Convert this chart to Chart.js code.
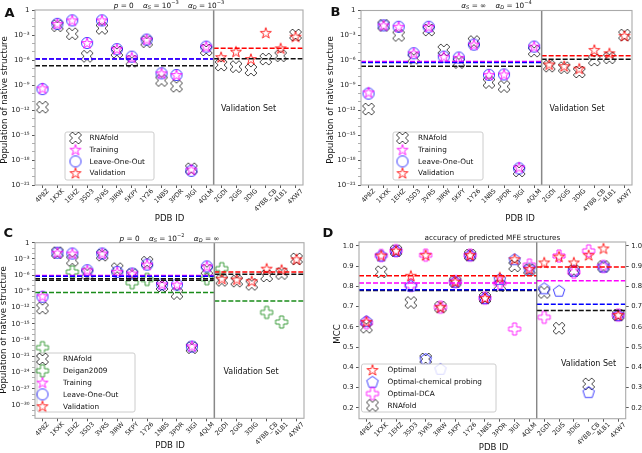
<!DOCTYPE html>
<html><head><meta charset="utf-8">
<script src="https://cdn.jsdelivr.net/npm/chart.js@4/dist/chart.umd.min.js"></script>
<style>
html,body{margin:0;padding:0;background:#fff;}
#wrap{position:relative;width:642px;height:453px;overflow:hidden;background:#fff;}
canvas{position:absolute;}
</style></head><body>
<div id="wrap">
<canvas id="cA" width="321" height="226" style="left:0;top:0"></canvas>
<canvas id="cB" width="321" height="226" style="left:321px;top:0"></canvas>
<canvas id="cC" width="321" height="227" style="left:0;top:226px"></canvas>
<canvas id="cD" width="321" height="227" style="left:321px;top:226px"></canvas>
</div>
<script>
// ---------------- categories ----------------
const trainingSet = ['4P8Z','1KXK','1EHZ','3SD3','3VRS','3IRW','5KPY','1Y26','1NBS','3PDR','3IGI','4QLM'];
const validationSet = ['2GDI','2GIS','3DIG','4YBB_CB','4LB1','4XW7'];
const pdbIds = trainingSet.concat(validationSet);

// ---------------- panel A (population of native structure) ----------------
const A_rnafold = [2.2e-12,1.3e-2,1.4e-3,2.8e-6,6.3e-3,8.9e-6,7.1e-7,1.6e-4,3.5e-9,7.1e-10,8.9e-20,1.6e-5, 2.5e-7,1.6e-7,6.3e-8,1.3e-6,3.2e-6,1.0e-3];
const A_training = [4.0e-10,2.2e-2,5.6e-2,1.1e-4,5.6e-2,2.0e-5,2.0e-6,2.8e-4,2.5e-8,1.6e-8,7.1e-20,4.0e-5];
const A_leaveOneOut = [3.2e-10,2.2e-2,5.6e-2,1.1e-4,5.6e-2,2.0e-5,2.5e-6,2.8e-4,2.5e-8,1.6e-8,5.0e-20,4.0e-5];
const A_validation = [2.2e-6,1.0e-5,1.3e-6,1.8e-3,2.5e-5,6.3e-4];
const A_trainMeans = [1.4e-6, 1.3e-6, 2.0e-7];      // Training, Leave-One-Out, RNAfold
const A_validMeans = [2.5e-5, 1.4e-6];              // Validation, RNAfold

// ---------------- panel B ----------------
const B_rnafold = [1.4e-12,1.6e-2,1.0e-3,1.8e-6,4.5e-3,1.8e-5,5.6e-7,1.8e-4,2.2e-9,7.1e-10,5.0e-20,1.3e-5, 2.0e-7,1.3e-7,4.0e-8,1.1e-6,2.0e-6,1.1e-3];
const B_training = [1.4e-10,1.6e-2,1.1e-2,7.1e-6,1.1e-2,2.8e-6,2.0e-6,7.9e-5,1.8e-8,2.0e-8,1.3e-19,4.5e-5];
const B_leaveOneOut = [1.0e-10,1.6e-2,1.1e-2,7.1e-6,1.1e-2,2.8e-6,2.2e-6,7.9e-5,1.8e-8,2.0e-8,1.0e-19,4.5e-5];
const B_validation = [3.2e-7,2.0e-7,1.0e-7,1.8e-5,7.1e-6,8.9e-4];
const B_trainMeans = [7.1e-7, 5.6e-7, 2.0e-7];
const B_validMeans = [3.5e-6, 1.4e-6];

// ---------------- panel C ----------------
const C_rnafold = [7.9e-13,1.4e-2,5.6e-4,2.0e-6,5.0e-3,1.6e-5,1.3e-6,2.5e-4,1.0e-8,4.0e-10,4.0e-20,7.9e-6, 1.1e-7,7.9e-8,2.0e-8,7.1e-7,2.0e-6,1.0e-3];
const C_deigan2009 = [4.0e-20,null,4.0e-6,null,null,null,4.0e-8,1.6e-7,null,null,null,2.2e-7, 1.6e-5,null,null,1.3e-13,2.2e-15,null];
const C_training = [1.3e-10,1.4e-2,1.0e-2,7.9e-6,1.0e-2,4.0e-6,2.0e-6,8.9e-5,2.0e-8,1.8e-8,7.1e-20,4.0e-5];
const C_leaveOneOut = [1.0e-10,1.4e-2,1.0e-2,7.9e-6,1.0e-2,4.0e-6,2.0e-6,8.9e-5,2.0e-8,1.8e-8,6.3e-20,4.0e-5];
const C_validation = [2.2e-7,1.6e-7,7.9e-8,1.6e-5,1.0e-5,8.5e-4];
const C_trainMeans = [8.9e-7, 6.3e-7, 2.2e-7, 1.1e-7, 6.3e-10];  // Training, LOO, RNAfold, RNAfold(2), Deigan2009
const C_validMeans = [4.0e-6, 1.4e-6, 1.6e-11];                // Validation, RNAfold, Deigan2009

// ---------------- panel D (MCC) ----------------
const D_optimal = [0.625,0.952,0.976,0.852,0.954,0.697,0.823,0.954,0.742,0.844,0.934,0.885, 0.918,0.947,0.918,0.954,0.987,0.658];
const D_chemProbing = [0.628,0.952,0.976,0.803,0.441,0.392,0.823,0.954,0.742,0.836,0.934,0.888, 0.790,0.778,0.877,0.277,0.898,0.658];
const D_dca = [0.620,0.952,0.976,0.805,0.954,0.697,0.823,0.954,0.742,0.815,0.589,0.905, 0.647,0.950,0.870,0.975,0.898,0.658];
const D_rnafold = [0.598,0.872,0.976,0.720,0.441,0.697,0.823,0.954,0.742,0.803,0.901,0.882, 0.770,0.593,0.877,0.318,0.898,0.658];
const D_trainMeans = [0.852, 0.783, 0.816, 0.779];   // Optimal, chem probing, DCA, RNAfold
const D_validMeans = [0.896, 0.712, 0.828, 0.680];

// ---------------- tick labels ----------------
const logTicks21 = [1,1e-1,1e-2,1e-3,1e-4,1e-5,1e-6,1e-7,1e-8,1e-9,1e-10,1e-11,1e-12,1e-13,1e-14,1e-15,1e-16,1e-17,1e-18,1e-19,1e-20,1e-21];
const logLabels21 = ['1','','','10⁻³','','','10⁻⁶','','','10⁻⁹','','','10⁻¹²','','','10⁻¹⁵','','','10⁻¹⁸','','','10⁻²¹'];
const logTicks32 = [1,1e-1,1e-2,1e-3,1e-4,1e-5,1e-6,1e-7,1e-8,1e-9,1e-10,1e-11,1e-12,1e-13,1e-14,1e-15,1e-16,1e-17,1e-18,1e-19,1e-20,1e-21,1e-22,1e-23,1e-24,1e-25,1e-26,1e-27,1e-28,1e-29,1e-30,1e-31,1e-32];
const logLabels32 = ['1','','','10⁻³','','','10⁻⁶','','','10⁻⁹','','','10⁻¹²','','','10⁻¹⁵','','','10⁻¹⁸','','','10⁻²¹','','','10⁻²⁴','','','10⁻²⁷','','','10⁻³⁰','',''];
const mccTicks = [0.2,0.3,0.4,0.5,0.6,0.7,0.8,0.9,1.0];
const mccLabels = ['0.2','0.3','0.4','0.5','0.6','0.7','0.8','0.9','1.0'];

// ---------------- drawing helpers ----------------
const FONT = '"DejaVu Sans", sans-serif';
Chart.defaults.font.family = FONT;

function marker(shape, size, color, lw) {
  const pad = 2;
  const S = Math.ceil(size) + 2 * pad;
  const c = document.createElement('canvas');
  c.width = S; c.height = S;
  const g = c.getContext('2d');
  g.translate(S / 2, S / 2);
  g.strokeStyle = color; g.lineWidth = lw; g.lineJoin = 'miter';
  const r = size / 2;
  g.beginPath();
  let pts = null;
  if (shape === 'circle') {
    g.arc(0, 0, r - lw / 2, 0, Math.PI * 2);
  } else if (shape === 'star') {
    pts = [];
    for (let k = 0; k < 10; k++) {
      const a = -Math.PI / 2 + k * Math.PI / 5;
      const rr = (k % 2) ? r * 0.381966 : r;
      pts.push([rr * Math.cos(a), rr * Math.sin(a) + r * 0.08]);
    }
  } else if (shape === 'pentagon') {
    pts = [];
    for (let k = 0; k < 5; k++) {
      const a = -Math.PI / 2 + k * 2 * Math.PI / 5;
      pts.push([r * Math.cos(a), r * Math.sin(a) + r * 0.08]);
    }
  } else if (shape === 'plus') {
    pts = [[-1/3,-1],[1/3,-1],[1/3,-1/3],[1,-1/3],[1,1/3],[1/3,1/3],[1/3,1],[-1/3,1],[-1/3,1/3],[-1,1/3],[-1,-1/3],[-1/3,-1/3]].map(p => [p[0]*r, p[1]*r]);
  } else if (shape === 'x') {
    pts = [[-1,-2],[0,-1],[1,-2],[2,-1],[1,0],[2,1],[1,2],[0,1],[-1,2],[-2,1],[-1,0],[-2,-1]].map(p => [p[0]*r/2, p[1]*r/2]);
  }
  if (pts) { pts.forEach((p, i) => i ? g.lineTo(p[0], p[1]) : g.moveTo(p[0], p[1])); g.closePath(); }
  g.stroke();
  return c;
}

const M = {
  xBlack: marker('x', 12, '#222', 0.85),
  starMag: marker('star', 11.5, '#ff00ff', 0.85),
  circBlue: marker('circle', 12, '#2020ff', 0.85),
  starRed: marker('star', 11.5, '#ff0000', 0.85),
  plusGreen: marker('plus', 12, '#1a8c1a', 0.85),
  pentBlue: marker('pentagon', 12, '#2020ff', 0.85),
  plusMag: marker('plus', 12, '#ff00ff', 0.85)
};

function pts(values, offset) {
  const out = [];
  values.forEach((v, i) => { if (v !== null && v !== undefined) out.push({x: i + offset, y: v}); });
  return out;
}
function scat(label, values, offset, img, order) {
  return {label, data: pts(values, offset), pointStyle: img, pointRadius: 6, showLine: false, order};
}
function hline(value, x0, x1, color, order) {
  return {label: '', data: [{x: x0, y: value}, {x: x1, y: value}], showLine: true, borderColor: color,
          borderWidth: 1.5, borderDash: [5, 2], pointRadius: 0, order, fill: false};
}
function vline(x, y0, y1, color, w, order) {
  return {label: '', data: [{x, y: y0}, {x, y: y1}], showLine: true, borderColor: color, borderWidth: w, pointRadius: 0, order};
}

function richText(ctx, segs, cx, cy, fs) {
  let total = 0;
  const parts = segs.map(s => {
    const size = (s.sub || s.sup) ? fs * 0.7 : fs;
    const font = (s.it ? 'italic ' : '') + size + 'px ' + FONT;
    ctx.font = font;
    const w = ctx.measureText(s.t).width;
    total += w;
    return {t: s.t, font, w, dy: s.sub ? fs * 0.25 : (s.sup ? -fs * 0.42 : 0)};
  });
  let x = cx - total / 2;
  ctx.textAlign = 'left'; ctx.textBaseline = 'alphabetic';
  parts.forEach(p => { ctx.font = p.font; ctx.fillText(p.t, x, cy + p.dy); x += p.w; });
}

const decoPlugin = {
  id: 'deco',
  afterDraw(chart) {
    const d = chart.options.plugins.deco;
    const ctx = chart.ctx;
    const ca = chart.chartArea;
    const xs = chart.scales.x;
    ctx.save();
    // frame
    ctx.strokeStyle = d.frameColor; ctx.lineWidth = 1.1;
    ctx.strokeRect(ca.left, ca.top, ca.right - ca.left, ca.bottom - ca.top);
    // x tick labels rotated 45, centred on tick
    const fs = 6.4;
    ctx.font = fs + 'px ' + FONT; ctx.fillStyle = '#222';
    pdbIds.forEach((name, i) => {
      const w = ctx.measureText(name).width;
      const h = fs * 1.16;
      const H = (w + h) * Math.SQRT1_2;
      const cx = xs.getPixelForValue(i);
      const cy = ca.bottom + d.xLabelGap + H / 2;
      ctx.save(); ctx.translate(cx, cy); ctx.rotate(-Math.PI / 4);
      ctx.textAlign = 'center'; ctx.textBaseline = 'middle';
      ctx.fillText(name, 0, 0); ctx.restore();
    });
    // axis titles
    ctx.fillStyle = '#111';
    ctx.font = '8.6px ' + FONT; ctx.textAlign = 'center'; ctx.textBaseline = 'middle';
    ctx.fillText('PDB ID', d.xTitle[0], d.xTitle[1]);
    ctx.save(); ctx.translate(d.yTitle[0], d.yTitle[1]); ctx.rotate(-Math.PI / 2);
    ctx.fillText(d.yTitleText, 0, 0); ctx.restore();
    // Validation Set
    ctx.font = '8px ' + FONT;
    ctx.fillText('Validation Set', d.valText[0], d.valText[1]);
    // panel title
    ctx.fillStyle = '#111';
    richText(ctx, d.title, (ca.left + ca.right) / 2, d.titleY, 7.3);
    // panel letter
    ctx.font = 'bold 13px ' + FONT; ctx.textAlign = 'left'; ctx.textBaseline = 'alphabetic';
    ctx.fillText(d.letter, d.letterPos[0], d.letterPos[1]);
    // legend
    const L = d.legend;
    ctx.fillStyle = 'rgba(255,255,255,0.8)';
    ctx.strokeStyle = '#cccccc'; ctx.lineWidth = 1;
    const bx = L.box[0], by = L.box[1], bw = L.box[2] - L.box[0], bh = L.box[3] - L.box[1], rr = 2;
    ctx.beginPath();
    ctx.moveTo(bx + rr, by); ctx.lineTo(bx + bw - rr, by); ctx.quadraticCurveTo(bx + bw, by, bx + bw, by + rr);
    ctx.lineTo(bx + bw, by + bh - rr); ctx.quadraticCurveTo(bx + bw, by + bh, bx + bw - rr, by + bh);
    ctx.lineTo(bx + rr, by + bh); ctx.quadraticCurveTo(bx, by + bh, bx, by + bh - rr);
    ctx.lineTo(bx, by + rr); ctx.quadraticCurveTo(bx, by, bx + rr, by); ctx.closePath();
    ctx.fill(); ctx.stroke();
    ctx.font = '7.3px ' + FONT; ctx.fillStyle = '#111'; ctx.textAlign = 'left'; ctx.textBaseline = 'middle';
    L.items.forEach((it, k) => {
      const y = L.rows[k];
      ctx.drawImage(it[0], L.mx - it[0].width / 2, y - it[0].height / 2);
      ctx.fillText(it[1], L.tx, y + 0.5);
    });
    ctx.restore();
  }
};

function xAxis(height) {
  return {type: 'linear', min: -0.5, max: 17.5,
    afterBuildTicks: s => { s.ticks = pdbIds.map((_, i) => ({value: i})); },
    afterFit: s => { s.height = height; },
    ticks: {display: false},
    grid: {drawOnChartArea: false, drawTicks: true, tickLength: 3, tickColor: '#444', tickWidth: 0.9},
    border: {display: false}};
}
function logAxis(ticks, labels, min, max, width) {
  return {type: 'logarithmic', min, max,
    afterBuildTicks: s => { s.ticks = ticks.map(v => ({value: v})); },
    afterFit: s => { s.width = width; },
    ticks: {autoSkip: false, callback: (v, i) => labels[i], font: {family: FONT, size: 7}, color: '#222', padding: 2.5},
    grid: {drawOnChartArea: false, tickLength: 3,
      tickColor: c => labels[c.index] ? '#444' : '#777',
      tickWidth: c => labels[c.index] ? 0.9 : 0.6},
    border: {display: false}};
}
function linAxis(ticks, labels, min, max, width, pos) {
  return {type: 'linear', min, max, position: pos,
    afterBuildTicks: s => { s.ticks = ticks.map(v => ({value: v})); },
    afterFit: s => { s.width = width; },
    ticks: {autoSkip: false, callback: (v, i) => labels[i], font: {family: FONT, size: 6.8}, color: '#222', padding: 2.5},
    grid: {drawOnChartArea: false, tickLength: 3, tickColor: '#444', tickWidth: 0.9},
    border: {display: false}};
}

function makeChart(id, datasets, scales, padding, deco) {
  return new Chart(document.getElementById(id), {
    type: 'scatter',
    data: {datasets},
    options: {responsive: false, animation: false, events: [],
      layout: {padding},
      scales,
      plugins: {legend: {display: false}, tooltip: {enabled: false}, deco}},
    plugins: [decoPlugin]
  });
}

const DIV = 11.5, XL = -0.5, XR = 17.5;

// ----- A -----
makeChart('cA', [
  scat('RNAfold', A_rnafold, 0, M.xBlack, 20),
  scat('Leave-One-Out', A_leaveOneOut, 0, M.circBlue, 18),
  scat('Training', A_training, 0, M.starMag, 17),
  scat('Validation', A_validation, 12, M.starRed, 16),
  hline(A_trainMeans[2], XL, DIV, '#111', 5),
  hline(A_trainMeans[0], XL, DIV, '#ff00ff', 4),
  hline(A_trainMeans[1], XL, DIV, '#0000ff', 3),
  hline(A_validMeans[1], DIV, XR, '#111', 4),
  hline(A_validMeans[0], DIV, XR, '#ff0000', 3),
  vline(DIV, 1e-21, 1, '#888', 1.5, 1)
], {x: xAxis(41), y: logAxis(logTicks21, logLabels21, 1e-21, 1, 35)},
{top: 10, right: 18, left: 0, bottom: 0},
{frameColor: '#aaaaaa', xLabelGap: 2.5, xTitle: [169.5, 218.5], yTitle: [4.5, 100], yTitleText: 'Population of native structure',
 valText: [248.5, 108.5], titleY: 7.5, letter: 'A', letterPos: [4.5, 17],
 title: [{t:'p',it:1},{t:' = 0    '},{t:'α',it:1},{t:'S',it:1,sub:1},{t:' = 10'},{t:'−3',sup:1},{t:'    '},{t:'α',it:1},{t:'D',it:1,sub:1},{t:' = 10'},{t:'−3',sup:1}],
 legend: {box: [65, 132, 154, 180], mx: 75.5, tx: 89.5, rows: [138, 149.7, 161.4, 173.1],
   items: [[M.xBlack,'RNAfold'],[M.starMag,'Training'],[M.circBlue,'Leave-One-Out'],[M.starRed,'Validation']]}});

// ----- B -----
makeChart('cB', [
  scat('RNAfold', B_rnafold, 0, M.xBlack, 20),
  scat('Leave-One-Out', B_leaveOneOut, 0, M.circBlue, 18),
  scat('Training', B_training, 0, M.starMag, 17),
  scat('Validation', B_validation, 12, M.starRed, 16),
  hline(B_trainMeans[2], XL, DIV, '#111', 5),
  hline(B_trainMeans[0], XL, DIV, '#ff00ff', 4),
  hline(B_trainMeans[1], XL, DIV, '#0000ff', 3),
  hline(B_validMeans[1], DIV, XR, '#111', 4),
  hline(B_validMeans[0], DIV, XR, '#ff0000', 3),
  vline(DIV, 1e-21, 1, '#888', 1.5, 1)
], {x: xAxis(41), y: logAxis(logTicks21, logLabels21, 1e-21, 1, 40)},
{top: 10.5, right: 10, left: 0, bottom: 0},
{frameColor: '#aaaaaa', xLabelGap: 2.5, xTitle: [199, 218.5], yTitle: [10, 100], yTitleText: 'Population of native structure',
 valText: [256, 108.5], titleY: 7.5, letter: 'B', letterPos: [9.5, 16],
 title: [{t:'α',it:1},{t:'S',it:1,sub:1},{t:' = ∞    '},{t:'α',it:1},{t:'D',it:1,sub:1},{t:' = 10'},{t:'−4',sup:1}],
 legend: {box: [72, 132, 162, 180], mx: 81.5, tx: 97, rows: [138, 149.7, 161.4, 173.1],
   items: [[M.xBlack,'RNAfold'],[M.starMag,'Training'],[M.circBlue,'Leave-One-Out'],[M.starRed,'Validation']]}});

// ----- C -----
const C_MIN = 3.5e-33;
makeChart('cC', [
  scat('RNAfold', C_rnafold, 0, M.xBlack, 20),
  scat('Deigan2009', C_deigan2009, 0, M.plusGreen, 19),
  scat('Leave-One-Out', C_leaveOneOut, 0, M.circBlue, 18),
  scat('Training', C_training, 0, M.starMag, 17),
  scat('Validation', C_validation, 12, M.starRed, 16),
  hline(C_trainMeans[4], XL, DIV, '#1a8c1a', 6),
  hline(C_trainMeans[3], XL, DIV, '#111', 5),
  hline(C_trainMeans[2], XL, DIV, '#111', 5),
  hline(C_trainMeans[0], XL, DIV, '#ff00ff', 4),
  hline(C_trainMeans[1], XL, DIV, '#0000ff', 3),
  hline(C_validMeans[2], DIV, XR, '#1a8c1a', 5),
  hline(C_validMeans[1], DIV, XR, '#111', 4),
  hline(C_validMeans[0], DIV, XR, '#ff0000', 3),
  vline(DIV, C_MIN, 1, '#888', 1.5, 1)
], {x: xAxis(34.7), y: logAxis(logTicks32, logLabels32, C_MIN, 1, 35)},
{top: 16.7, right: 17, left: 0, bottom: 0},
{frameColor: '#aaaaaa', xLabelGap: 2.5, xTitle: [170, 220], yTitle: [4, 104], yTitleText: 'Population of native structure',
 valText: [251, 146], titleY: 14.5, letter: 'C', letterPos: [3.5, 11],
 title: [{t:'p',it:1},{t:' = 0    '},{t:'α',it:1},{t:'S',it:1,sub:1},{t:' = 10'},{t:'−2',sup:1},{t:'    '},{t:'α',it:1},{t:'D',it:1,sub:1},{t:' = ∞'}],
 legend: {box: [37, 127, 135, 186], mx: 42.5, tx: 63, rows: [133, 144.8, 156.6, 168.4, 180.2],
   items: [[M.xBlack,'RNAfold'],[M.plusGreen,'Deigan2009'],[M.starMag,'Training'],[M.circBlue,'Leave-One-Out'],[M.starRed,'Validation']]}});

// ----- D -----
makeChart('cD', [
  scat('RNAfold', D_rnafold, 0, M.xBlack, 20),
  scat('Optimal-DCA', D_dca, 0, M.plusMag, 19),
  scat('Optimal-chemical probing', D_chemProbing, 0, M.pentBlue, 18),
  scat('Optimal', D_optimal, 0, M.starRed, 17),
  hline(D_trainMeans[3], XL, DIV, '#111', 6),
  hline(D_trainMeans[1], XL, DIV, '#0000ff', 5),
  hline(D_trainMeans[2], XL, DIV, '#ff00ff', 4),
  hline(D_trainMeans[0], XL, DIV, '#ff0000', 3),
  hline(D_validMeans[3], DIV, XR, '#111', 6),
  hline(D_validMeans[1], DIV, XR, '#0000ff', 5),
  hline(D_validMeans[2], DIV, XR, '#ff00ff', 4),
  hline(D_validMeans[0], DIV, XR, '#ff0000', 3),
  vline(DIV, 0.146, 1.019, '#555', 1, 1)
], {x: xAxis(34.3), y: linAxis(mccTicks, mccLabels, 0.146, 1.019, 38, 'left'),
    y2: linAxis(mccTicks, mccLabels, 0.146, 1.019, 16.3, 'right')},
{top: 16, right: 0, left: 0, bottom: 0},
{frameColor: '#aaaaaa', xLabelGap: 2.5, xTitle: [172.5, 221.5], yTitle: [16.5, 108], yTitleText: 'MCC',
 valText: [267.5, 137.5], titleY: 13.5, letter: 'D', letterPos: [1.5, 11],
 title: [{t:'accuracy of predicted MFE structures'}],
 legend: {box: [40.5, 138, 175, 186], mx: 51.5, tx: 66.5, rows: [144, 155.8, 167.6, 179.4],
   items: [[M.starRed,'Optimal'],[M.pentBlue,'Optimal-chemical probing'],[M.plusMag,'Optimal-DCA'],[M.xBlack,'RNAfold']]}});
</script>
</body></html>
